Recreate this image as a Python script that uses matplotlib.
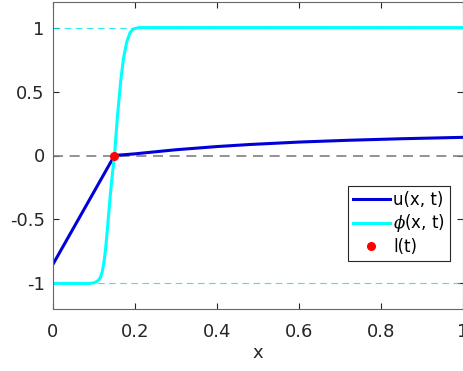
import numpy as np
import matplotlib.pyplot as plt

plt.rcParams['font.family'] = ['DejaVu Sans']
plt.rcParams['mathtext.fontset'] = 'dejavuserif'

# u(x, t): liniowo do frontu, potem powolny wzrost
x_u = [0.0, 0.15, 0.2, 0.24, 0.3, 0.4, 0.48, 0.6, 0.72, 0.85, 1.0]
u = [-0.85, 0.0, 0.013, 0.026, 0.045, 0.07, 0.086, 0.105, 0.119, 0.131, 0.142]

# phi(x, t): przejscie fazowe w okolicy frontu
x_phi = [0.0, 0.09, 0.1, 0.107, 0.112, 0.116, 0.12, 0.124, 0.128, 0.132, 0.136,
         0.14, 0.145, 0.15, 0.157, 0.165, 0.172, 0.18, 0.188, 0.196, 0.21, 1.0]
phi = [-1.0, -1.0, -0.995, -0.985, -0.97, -0.95, -0.91, -0.84, -0.74, -0.6, -0.45,
       -0.3, -0.14, 0.0, 0.3, 0.58, 0.76, 0.89, 0.96, 0.99, 1.0, 1.0]

# polozenie frontu l(t)
l_t = 0.15

fig = plt.figure(figsize=(4.64, 3.71), dpi=100)
ax = fig.add_axes([53 / 464, 1 - 309 / 371, 410 / 464, 307 / 371])

ax.axhline(1, color='#00e5ee', lw=0.8, ls=(0, (6, 4)), alpha=0.8)
ax.axhline(-1, color='#00e5ee', lw=0.8, ls=(0, (6, 4)), alpha=0.8)
ax.axhline(0, color='#808080', lw=1.2, ls=(0, (6, 4)))

ax.plot(x_u, u, color='#0000d8', lw=2.2, label='u(x, t)')
ax.plot(x_phi, phi, color='#00ffff', lw=2.2, label=r'$\phi$(x, t)')
ax.plot([l_t], [0], 'o', color='red', ms=5.5, label='l(t)', ls='none')

ax.set_xlim(0, 1)
ax.set_ylim(-1.2, 1.2)
ax.set_xticks([0, 0.2, 0.4, 0.6, 0.8, 1])
ax.set_xticklabels(['0', '0.2', '0.4', '0.6', '0.8', '1'])
ax.set_yticks([-1, -0.5, 0, 0.5, 1])
ax.set_yticklabels(['-1', '-0.5', '0', '0.5', '1'])
ax.tick_params(direction='in', top=True, right=True, labelsize=13,
               colors='#262626', length=4)
ax.tick_params(axis='x', pad=10)
ax.tick_params(axis='y', pad=6)
for s in ax.spines.values():
    s.set_color('#666666')
    s.set_linewidth(0.8)
ax.set_xlabel('x', fontsize=13, color='#262626', labelpad=2)

leg_top = (309 - 186) / 307
leg = ax.legend(loc='upper left', bbox_to_anchor=((348 - 53) / 410, leg_top - 0.3, 102 / 410, 0.3),
                mode='expand', fontsize=12,
                handlelength=2.2, handletextpad=0.2, borderpad=0.3,
                labelspacing=0.2, fancybox=False, framealpha=1,
                borderaxespad=0)
leg.get_frame().set_edgecolor('#262626')
leg.get_frame().set_linewidth(0.8)

fig.savefig('out.png', dpi=100)
